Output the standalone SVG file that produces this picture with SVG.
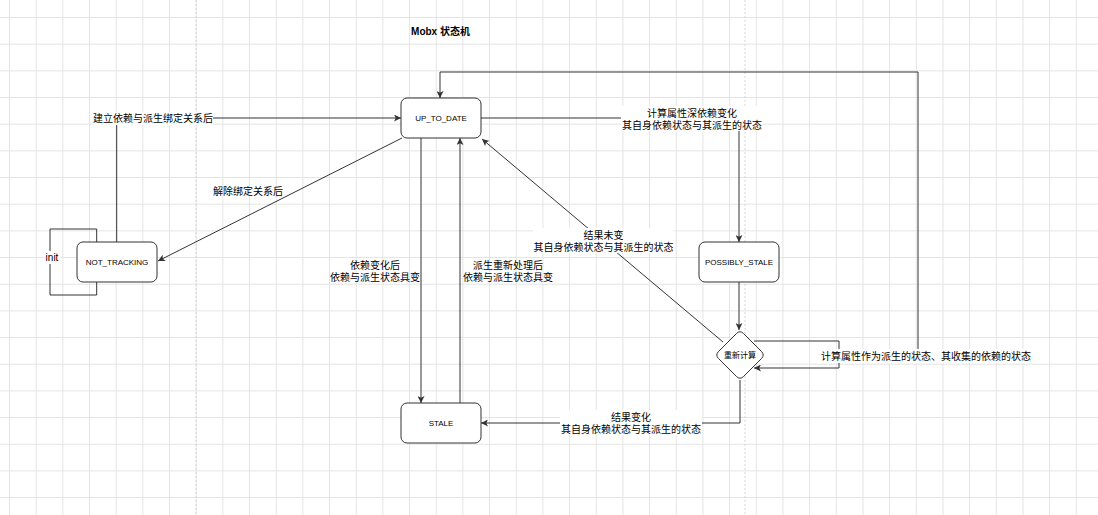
<svg xmlns="http://www.w3.org/2000/svg" width="1098" height="515" viewBox="0 0 1098 515">
<style>
  .box { fill: #ffffff; stroke: #333333; stroke-width: 1; }
  .edge { fill: none; stroke: #333333; stroke-width: 1; }
  .arrow { marker-end: url(#arr); }
  .t { font-family: "Liberation Sans", "Noto Sans CJK SC", sans-serif; font-size: 10px; fill: #000000; text-anchor: middle; dominant-baseline: central; }
  .n { font-family: "Liberation Sans", "Noto Sans CJK SC", sans-serif; font-size: 8px; fill: #000000; text-anchor: middle; dominant-baseline: central; }
  .title { font-weight: bold; }
  .bg { fill: #ffffff; stroke: none; }
  .page { stroke: #d6d6d6; stroke-width: 1; stroke-dasharray: 2 2; fill: none; }
</style>
<defs>
  <pattern id="grid" x="9" y="17" width="26.67" height="26.67" patternUnits="userSpaceOnUse">
    <rect x="0" y="0" width="1" height="26.67" fill="#e4e4e4"/>
    <rect x="0" y="0" width="26.67" height="1" fill="#e4e4e4"/>
  </pattern>
  <marker id="arr" viewBox="0 0 8 8" refX="8" refY="4" markerWidth="7" markerHeight="7" markerUnits="userSpaceOnUse" orient="auto">
    <path d="M0,0 L8,4 L0,8 L2,4 Z" fill="#333333"/>
  </marker>
</defs>
<rect width="1098" height="515" fill="#ffffff"/>
<rect width="1098" height="515" fill="url(#grid)"/>
<path class="page" d="M196,0 V515 M745,0 V515"/>

<g id="title">
  <text class="t title" x="440.5" y="31">Mobx 状态机</text>
</g>

<g id="connectors">
  <path class="edge arrow" d="M116.7,242 V118 H401"/>
  <path class="edge arrow" d="M402,138 L158,261"/>
  <path class="edge" d="M96.7,242 V229 H50 V295 H96.7 V282"/>
  <path class="edge arrow" d="M421,138 V403"/>
  <path class="edge arrow" d="M460,403 V138"/>
  <path class="edge arrow" d="M481,118 H739 V242"/>
  <path class="edge arrow" d="M739,282 V330"/>
  <path class="edge arrow" d="M723,342 L482,139"/>
  <path class="edge arrow" d="M740,380 V423 H481"/>
  <path class="edge arrow" d="M754,341 H839 V368 H754"/>
  <path class="edge arrow" d="M918,355 V72 H440 V98"/>

  <g id="label-bind">
    <rect class="bg" x="93" y="112" width="120" height="13"/>
    <text class="t" x="153" y="118.5">建立依赖与派生绑定关系后</text>
  </g>
  <g id="label-unbind">
    <text class="t" x="248" y="191.5">解除绑定关系后</text>
  </g>
  <g id="label-init">
    <rect class="bg" x="44" y="251" width="16" height="13"/>
    <text class="t" x="52" y="257.5">init</text>
  </g>
  <g id="label-dep-change">
    <text class="t" x="375" y="265">依赖变化后</text>
    <text class="t" x="375" y="277.5">依赖与派生状态具变</text>
  </g>
  <g id="label-derive">
    <text class="t" x="508" y="265">派生重新处理后</text>
    <text class="t" x="508" y="277.5">依赖与派生状态具变</text>
  </g>
  <g id="label-deep">
    <rect class="bg" x="621" y="106" width="142" height="25"/>
    <text class="t" x="692" y="113">计算属性深依赖变化</text>
    <text class="t" x="692" y="125">其自身依赖状态与其派生的状态</text>
  </g>
  <g id="label-unchanged">
    <rect class="bg" x="533" y="228" width="141" height="25"/>
    <text class="t" x="603.5" y="235">结果未变</text>
    <text class="t" x="603.5" y="247">其自身依赖状态与其派生的状态</text>
  </g>
  <g id="label-changed">
    <rect class="bg" x="560" y="410" width="142" height="25"/>
    <text class="t" x="631" y="417">结果变化</text>
    <text class="t" x="631" y="429">其自身依赖状态与其派生的状态</text>
  </g>
  <g id="label-recalc">
    <rect class="bg" x="821" y="349" width="210" height="14"/>
    <text class="t" x="926" y="356">计算属性作为派生的状态、其收集的依赖的状态</text>
  </g>
</g>

<g id="node-up-to-date">
  <rect class="box" x="401" y="98" width="80" height="40" rx="6"/>
  <text class="n" x="441" y="118">UP_TO_DATE</text>
</g>
<g id="node-not-tracking">
  <rect class="box" x="77" y="242" width="80" height="40" rx="6"/>
  <text class="n" x="117" y="262">NOT_TRACKING</text>
</g>
<g id="node-possibly-stale">
  <rect class="box" x="699" y="242" width="80" height="40" rx="6"/>
  <text class="n" x="739" y="262">POSSIBLY_STALE</text>
</g>
<g id="node-stale">
  <rect class="box" x="401" y="403" width="80" height="40" rx="6"/>
  <text class="n" x="441" y="423">STALE</text>
</g>
<g id="node-recompute">
  <path class="box" d="M736.46,333.54 Q740,330 743.54,333.54 L761.46,351.46 Q765,355 761.46,358.54 L743.54,376.46 Q740,380 736.46,376.46 L718.54,358.54 Q715,355 718.54,351.46 Z"/>
  <text class="n" x="740" y="355">重新计算</text>
</g>
</svg>
